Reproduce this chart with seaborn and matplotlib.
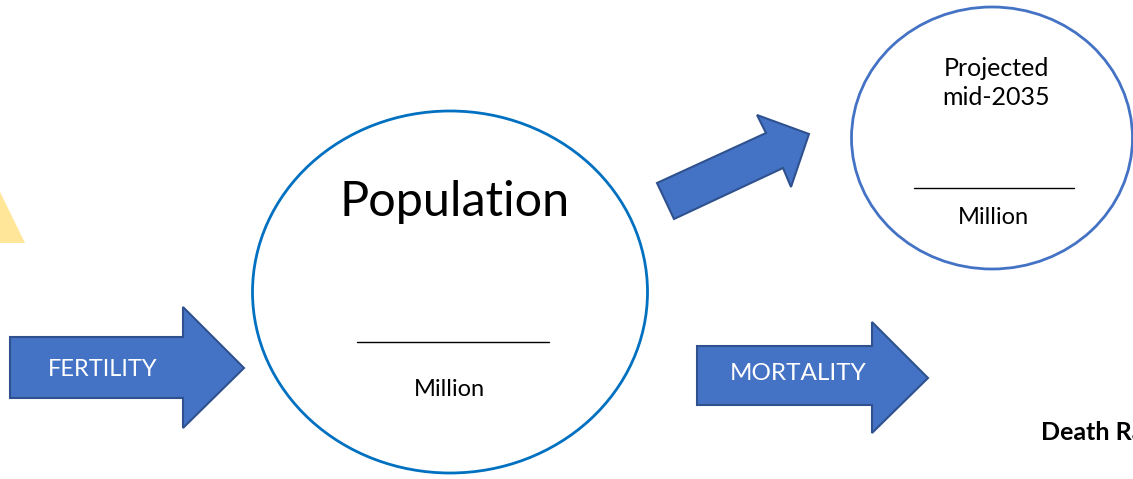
import matplotlib
matplotlib.use("Agg")
import matplotlib.pyplot as plt
from matplotlib.patches import Ellipse, Polygon
import seaborn as sns

sns.set_style("white")
plt.rcParams["font.family"] = ["Lato", "DejaVu Sans"]

# shapes of the diagram, in pixel coordinates of the 1133x479 picture
fill_blue = "#4472C4"
edge_blue = "#2F528F"

triangle = [(-40, 110), (25, 243), (-40, 243)]
fertility_arrow = [(10, 337), (183, 337), (183, 307), (244, 368),
                   (183, 428), (183, 398), (10, 398)]
growth_arrow = [(657, 183), (766, 133), (757, 115), (809, 134),
                (791, 187), (783, 168), (674, 219)]
mortality_arrow = [(697, 346), (872, 346), (872, 322), (928, 378),
                   (872, 433), (872, 405), (697, 405)]

circles = [
    # (cx, cy, width, height, colour)
    (450, 292, 395, 362, "#0070C0"),
    (992, 138, 281, 262, "#4472C4"),
]
blank_lines = [((357, 549), 342), ((914, 1074), 188)]

fig = plt.figure(figsize=(11.33, 4.79), dpi=100)
ax = fig.add_axes([0, 0, 1, 1])
ax.set_xlim(0, 1133)
ax.set_ylim(479, 0)
ax.axis("off")

ax.add_patch(Polygon(triangle, closed=True, facecolor="#FFE699", edgecolor="none"))
for pts in [fertility_arrow, growth_arrow, mortality_arrow]:
    ax.add_patch(Polygon(pts, closed=True, facecolor=fill_blue,
                         edgecolor=edge_blue, linewidth=1.5, joinstyle="miter"))

for cx, cy, w, h, col in circles:
    ax.add_patch(Ellipse((cx, cy), w, h, facecolor="white", edgecolor=col, linewidth=2))

for (x0, x1), y in blank_lines:
    ax.plot([x0, x1], [y, y], color="black", linewidth=1)

ax.text(103, 369, "FERTILITY", color="white", fontsize=17, ha="center", va="center")
ax.text(798, 374, "MORTALITY", color="white", fontsize=17.5, ha="center", va="center")
ax.text(455, 202, "Population", color="black", fontsize=35, ha="center", va="center")
ax.text(449, 389, "Million", color="black", fontsize=17, ha="center", va="center")
ax.text(996, 83, "Projected\nmid-2035", color="black", fontsize=18,
        ha="center", va="center", linespacing=1.3)
ax.text(993, 217, "Million", color="black", fontsize=17, ha="center", va="center")
ax.text(1041, 433, "Death Rate", color="black", fontsize=18, fontweight="bold",
        ha="left", va="center", clip_on=True)

fig.savefig("out.png", dpi=100)
